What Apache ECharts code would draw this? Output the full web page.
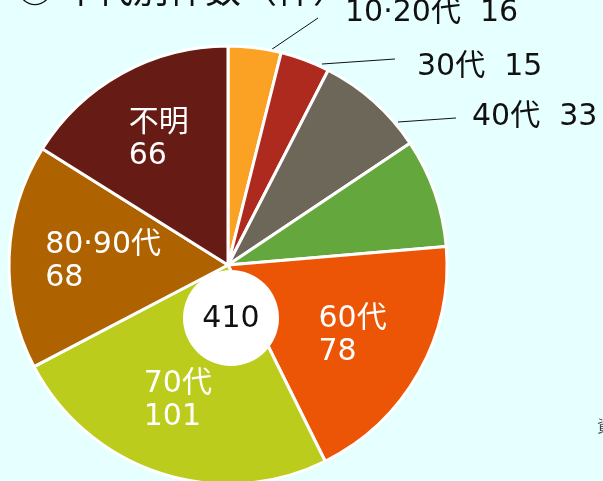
<!DOCTYPE html>
<html>
<head>
<meta charset="utf-8">
<script src="https://cdn.jsdelivr.net/npm/echarts@6/dist/echarts.min.js"></script>
<style>
  html, body { margin: 0; padding: 0; background: #e6ffff; }
  #chart-container { width: 603px; height: 481px; }
</style>
</head>
<body>
<div id="chart-container"></div>
<script>
// 年代別件数
const ageNames = ['10·20代', '30代', '40代', '50代', '60代', '70代', '80·90代', '不明'];
const ageCounts = [16, 15, 33, 33, 78, 101, 68, 66];
// ラベルの出し方 (outside = 引き出し線, inside = 扇の中, none = なし)
const labelModes = ['outside', 'outside', 'outside', 'none', 'inside', 'inside', 'inside', 'inside'];
const sliceColors = ['#fba124', '#ae2a1f', '#6d6759', '#64a83d', '#eb5505', '#bbcc1d', '#af6200', '#661c15'];
const titleText = '◎ 年代別件数（件）';
const noteText = '資料';

// 引き出し線ラベルの置き場所 (文字の左端・中心, 線の始点と終点)
const outsideLabelLayout = {
  0: { text: [345, 13], line: [[259, 58], [318, 18]] },
  1: { text: [417, 67], line: [[322, 64], [395, 59]] },
  2: { text: [472, 117], line: [[398, 122], [456, 118]] }
};
// 扇の中の文字のずらし (px)
const insideLabelShift = {
  5: [-6, 0],
  6: [18, 2]
};

const font = '"DejaVu Sans", "Noto Sans CJK JP", sans-serif';
const center = [228, 265];
const outerR = 219;

function renderChart() {
  const dom = document.getElementById('chart-container');
  const myChart = echarts.init(dom, null, { renderer: 'canvas' });

  const total = ageCounts.reduce((a, b) => a + b, 0);

  const pieData = ageNames.map((name, i) => {
    const isOut = labelModes[i] === 'outside';
    return {
      name: name,
      value: ageCounts[i],
      itemStyle: { color: sliceColors[i] },
      label: { show: isOut },
      labelLine: { show: isOut }
    };
  });

  const labelData = ageNames.map((name, i) => {
    return {
      name: name,
      value: ageCounts[i],
      label: { show: labelModes[i] === 'inside' }
    };
  });

  const option = {
    backgroundColor: '#e6ffff',
    animation: false,
    title: {
      text: titleText,
      left: 12,
      top: -34,
      textStyle: { fontFamily: '"Noto Sans CJK JP", sans-serif', fontSize: 36, fontWeight: 'normal', color: '#111' }
    },
    graphic: [
      {
        type: 'circle',
        z: 100,
        shape: { cx: 231, cy: 318, r: 48 },
        style: { fill: '#fff' }
      },
      {
        type: 'text',
        z: 101,
        x: 231,
        y: 319,
        style: {
          text: String(total),
          fill: '#111',
          font: '30px ' + font,
          align: 'center',
          verticalAlign: 'middle'
        }
      },
      {
        type: 'text',
        z: 101,
        x: 597,
        y: 418,
        style: {
          text: noteText,
          fill: '#444',
          font: '16px "Noto Sans CJK JP", sans-serif'
        }
      }
    ],
    series: [
      {
        type: 'pie',
        center: center,
        radius: [0, outerR],
        startAngle: 90,
        clockwise: true,
        avoidLabelOverlap: false,
        data: pieData,
        itemStyle: { borderColor: '#fff', borderWidth: 3 },
        label: {
          position: 'outside',
          formatter: '{b}  {c}',
          fontFamily: font,
          fontSize: 30,
          color: '#111'
        },
        labelLine: {
          lineStyle: { color: '#111', width: 1 }
        },
        labelLayout: function (params) {
          const lay = outsideLabelLayout[params.dataIndex];
          if (!lay) return {};
          return {
            x: lay.text[0],
            y: lay.text[1],
            align: 'left',
            verticalAlign: 'middle',
            labelLinePoints: [lay.line[0], lay.line[1], lay.line[1]]
          };
        }
      },
      {
        // 扇の中の文字だけ載せる透明な系列
        type: 'pie',
        center: center,
        radius: [61, outerR],
        startAngle: 90,
        clockwise: true,
        silent: true,
        data: labelData,
        itemStyle: { color: 'rgba(0,0,0,0)', borderWidth: 0 },
        label: {
          position: 'inside',
          formatter: '{b}\n{c}',
          fontFamily: font,
          fontSize: 30,
          lineHeight: 33,
          color: '#fff'
        },
        labelLine: { show: false },
        labelLayout: function (params) {
          const r = params.labelRect;
          const shift = insideLabelShift[params.dataIndex] || [0, 0];
          return {
            x: r.x + shift[0],
            y: r.y + r.height / 2 + shift[1],
            align: 'left',
            verticalAlign: 'middle'
          };
        }
      }
    ]
  };

  myChart.setOption(option);
  window.addEventListener('resize', myChart.resize);
}
renderChart();
</script>
</body>
</html>
